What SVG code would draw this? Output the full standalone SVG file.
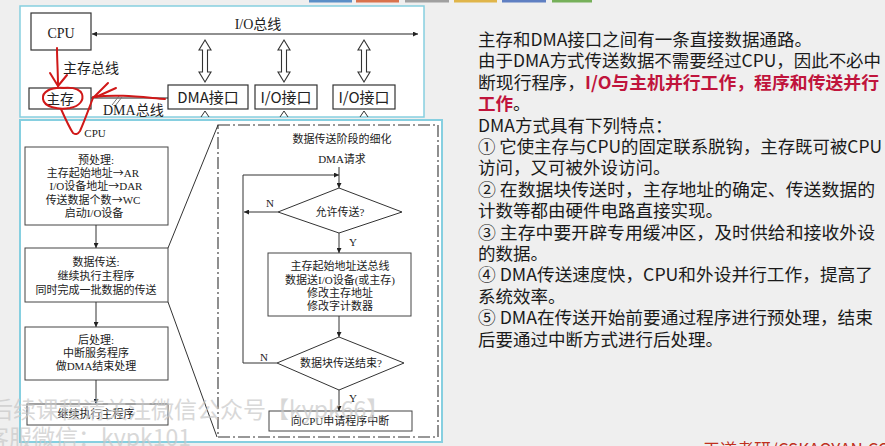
<svg xmlns="http://www.w3.org/2000/svg" width="885" height="446" viewBox="0 0 885 446">
  <defs>
    <marker id="ah" viewBox="0 0 10 10" refX="10" refY="5" markerWidth="6" markerHeight="5" markerUnits="userSpaceOnUse" orient="auto">
      <path d="M0,0 L10,5 L0,10 z" fill="#222"/>
    </marker>
    <marker id="busHead" viewBox="0 0 10 10" refX="10" refY="5" markerWidth="11" markerHeight="5" markerUnits="userSpaceOnUse" orient="auto-start-reverse">
      <path d="M0,0 L10,5 L0,10 z" fill="#222"/>
    </marker>
    <!-- hollow double-headed bus arrow, centred on x=0 -->
    <polygon id="dbl" points="0,0 6,10 2.5,10 2.5,32 6,32 0,42 -6,32 -2.5,32 -2.5,10 -6,10" fill="#fff" stroke="#333" stroke-width="1.1"/>
  </defs>
  <style>
    .panel { fill: #fff; stroke: #86cfe0; }
    .box { fill: #fff; stroke: #333; stroke-width: 1.2; }
    .fbox { fill: #fff; stroke: #444; stroke-width: 1; }
    .ser { font-family: "Liberation Serif", "Noto Sans CJK SC", serif; fill: #222; }
    .sans { font-family: "Noto Sans CJK SC", "Liberation Sans", sans-serif; fill: #222; }
    .arr { font-family: "Noto Sans CJK SC", sans-serif; }
    .lbl { font-size: 14px; }
    .ft { font-size: 11px; text-anchor: middle; }
    .ln { stroke: #333; stroke-width: 1; fill: none; }
    .body { font-family: "Noto Sans CJK SC", "Liberation Sans", sans-serif; font-size: 17.5px; fill: #1a1a1a; }
    .hl { fill: #c0143c; font-weight: bold; }
    .red { fill: none; stroke: #d01818; stroke-width: 2; stroke-linecap: round; stroke-linejoin: round; }
    .wm { font-family: "Noto Sans CJK SC", sans-serif; font-size: 23px; fill: #c8c8c8; opacity: 0.7; }
  </style>

  <!-- slide background and toolbar tabs -->
  <rect x="0" y="0" width="885" height="446" fill="#efefef"/>
  <g id="tabs">
    <rect x="309" y="0" width="43" height="2.5" fill="#5b8fc7"/>
    <rect x="356" y="0" width="43" height="2.5" fill="#d9734d"/>
    <rect x="405" y="0" width="44" height="2.5" fill="#a0a0a0"/>
    <rect x="454" y="0" width="43" height="2.5" fill="#e0b54a"/>
    <rect x="502" y="0" width="44" height="2.5" fill="#5f7fc2"/>
    <rect x="552" y="0" width="40" height="2.5" fill="#76b05a"/>
  </g>

  <!-- upper figure: bus structure -->
  <rect class="panel" x="20" y="6" width="404" height="111" stroke-width="1.5"/>

  <g id="cpu">
    <rect class="box" x="31" y="13" width="60" height="37"/>
    <text class="ser lbl" x="61" y="38" text-anchor="middle">CPU</text>
  </g>
  <g id="mem">
    <rect class="box" x="29" y="88" width="62" height="21"/>
    <text class="ser lbl" x="60" y="104" text-anchor="middle">主存</text>
  </g>
  <g id="dma-if">
    <rect class="box" x="168" y="85" width="80" height="24"/>
    <text class="sans" font-size="15" x="208" y="103" text-anchor="middle">DMA接口</text>
  </g>
  <g id="io-if1">
    <rect class="box" x="255" y="85" width="62" height="24"/>
    <text class="sans" font-size="15" x="286" y="103" text-anchor="middle">I/O接口</text>
  </g>
  <g id="io-if2">
    <rect class="box" x="333" y="85" width="62" height="24"/>
    <text class="sans" font-size="15" x="364" y="103" text-anchor="middle">I/O接口</text>
  </g>

  <g id="bus-connectors">
    <line x1="92" y1="34" x2="418" y2="34" stroke="#222" stroke-width="1.2" marker-start="url(#busHead)" marker-end="url(#busHead)"/>
    <use href="#dbl" x="205" y="40"/>
    <use href="#dbl" x="284" y="40"/>
    <use href="#dbl" x="364" y="40"/>
    <line x1="91" y1="98" x2="168" y2="98" stroke="#222" stroke-width="1.2"/>
    <path d="M112,105 L119,96 M115,106 L122,97" stroke="#777" stroke-width="1"/>
    <path d="M201,117 L205,111 L209,117 M280,117 L284,111 L288,117 M360,117 L364,111 L368,117" class="ln"/>
  </g>
  <text class="ser lbl" x="258" y="29" text-anchor="middle">I/O总线</text>
  <text class="ser lbl" x="63" y="73">主存总线</text>
  <text class="ser lbl" x="103" y="115">DMA总线</text>

  <!-- lower figure: DMA transfer flow -->
  <rect class="panel" x="20" y="120" width="422" height="322" stroke-width="2"/>
  <text class="ser" font-size="11" x="95" y="137" text-anchor="middle">CPU</text>

  <g id="pre">
    <rect class="fbox" x="25" y="147" width="143" height="78"/>
    <text class="ser ft" x="96" y="164">预处理:</text>
    <text class="ser ft" x="93" y="177">主存起始地址<tspan class="arr">→</tspan>AR</text>
    <text class="ser ft" x="96" y="190">I/O设备地址<tspan class="arr">→</tspan>DAR</text>
    <text class="ser ft" x="93" y="204">传送数据个数<tspan class="arr">→</tspan>WC</text>
    <text class="ser ft" x="94" y="217">启动I/O设备</text>
  </g>
  <g id="transfer">
    <rect class="fbox" x="25" y="248" width="143" height="54"/>
    <text class="ser ft" x="96" y="266">数据传送:</text>
    <text class="ser ft" x="96" y="280">继续执行主程序</text>
    <text class="ser ft" x="96" y="294">同时完成一批数据的传送</text>
  </g>
  <g id="post">
    <rect class="fbox" x="25" y="327" width="143" height="53"/>
    <text class="ser ft" x="96" y="344">后处理:</text>
    <text class="ser ft" x="96" y="357">中断服务程序</text>
    <text class="ser ft" x="96" y="370">做DMA结束处理</text>
  </g>
  <g id="resume">
    <rect class="fbox" x="27" y="404" width="141" height="21" stroke-width="1.6"/>
    <text class="ser ft" x="96" y="418" font-size="10.5">继续执行主程序</text>
  </g>

  <g id="detail">
    <rect x="218" y="125" width="220" height="312" fill="none" stroke="#333" stroke-width="1.1" stroke-dasharray="12,3,2,3"/>
    <text class="ser ft" x="342" y="143">数据传送阶段的细化</text>
    <text class="ser ft" x="342" y="163">DMA请求</text>
  </g>
  <g id="allow">
    <polygon points="339,188 402,212 339,233 278,212" fill="#fff" stroke="#333" stroke-width="1"/>
    <text class="ser ft" x="340" y="216">允许传送?</text>
  </g>
  <g id="move">
    <rect class="fbox" x="268" y="253" width="143" height="63"/>
    <text class="ser ft" x="340" y="270">主存起始地址送总线</text>
    <text class="ser ft" x="340" y="284">数据送I/O设备(或主存)</text>
    <text class="ser ft" x="340" y="297">修改主存地址</text>
    <text class="ser ft" x="340" y="310">修改字计数器</text>
  </g>
  <g id="done">
    <polygon points="339,337 404,363 339,390 277,363" fill="#fff" stroke="#333" stroke-width="1"/>
    <text class="ser ft" x="341" y="367">数据块传送结束?</text>
  </g>
  <g id="irq">
    <rect class="fbox" x="269" y="411" width="143" height="20"/>
    <text class="ser ft" x="340" y="425">向CPU申请程序中断</text>
  </g>

  <g id="flow-connectors">
    <line class="ln" x1="96" y1="225" x2="96" y2="248" marker-end="url(#ah)"/>
    <line class="ln" x1="96" y1="302" x2="96" y2="327" marker-end="url(#ah)"/>
    <line class="ln" x1="96" y1="380" x2="96" y2="404" marker-end="url(#ah)"/>
    <line class="ln" x1="168" y1="248" x2="218" y2="125"/>
    <line class="ln" x1="168" y1="302" x2="217" y2="437"/>
    <line class="ln" x1="339" y1="167" x2="339" y2="188" marker-end="url(#ah)"/>
    <line class="ln" x1="339" y1="233" x2="339" y2="253" marker-end="url(#ah)"/>
    <line class="ln" x1="339" y1="316" x2="339" y2="337" marker-end="url(#ah)"/>
    <line class="ln" x1="339" y1="390" x2="339" y2="411" marker-end="url(#ah)"/>
    <line class="ln" x1="278" y1="212" x2="244" y2="212" marker-end="url(#ah)"/>
    <polyline class="ln" points="277,363 243,363 243,175 339,175" marker-end="url(#ah)"/>
    <text class="ser" font-size="11" x="266" y="207">N</text>
    <text class="ser" font-size="11" x="260" y="361">N</text>
    <text class="ser" font-size="11" x="349" y="246">Y</text>
    <text class="ser" font-size="11" x="349" y="402">Y</text>
  </g>

  <!-- hand-drawn pen marks -->
  <g id="pen">
    <path class="red" d="M57,48 C57,60 58,72 58,86"/>
    <path class="red" d="M50,73 L58,86 L67,75"/>
    <path class="red" d="M64,88 C50,87 42,92 43,99 C44,107 58,110 70,108 C80,106 84,100 82,94 C80,89 72,87 62,88"/>
    <path class="red" d="M61,109 C65,118 69,127 73,133 C76,135 78,134 80,131 C85,120 89,108 93,98"/>
    <path class="red" d="M165,99 C140,97 118,94 93,97"/>
    <path class="red" d="M94,97 L108,83 M96,97 L116,88"/>
  </g>

  <!-- explanatory text -->
  <g id="notes" class="body">
    <text x="478" y="46" textLength="334" lengthAdjust="spacingAndGlyphs">主存和DMA接口之间有一条直接数据通路。</text>
    <text x="478" y="67.4" textLength="403" lengthAdjust="spacingAndGlyphs">由于DMA方式传送数据不需要经过CPU，因此不必中</text>
    <text x="478" y="88.8" textLength="401" lengthAdjust="spacingAndGlyphs">断现行程序，<tspan class="hl">I/O与主机并行工作，程序和传送并行</tspan></text>
    <text x="478" y="110.2"><tspan class="hl">工作</tspan>。</text>
    <text x="478" y="131.6">DMA方式具有下列特点：</text>
    <text x="478" y="153" textLength="404" lengthAdjust="spacingAndGlyphs">① 它使主存与CPU的固定联系脱钩，主存既可被CPU</text>
    <text x="478" y="174.4">访问，又可被外设访问。</text>
    <text x="478" y="195.8" textLength="397" lengthAdjust="spacingAndGlyphs">② 在数据块传送时，主存地址的确定、传送数据的</text>
    <text x="478" y="217.2">计数等都由硬件电路直接实现。</text>
    <text x="478" y="238.6" textLength="397" lengthAdjust="spacingAndGlyphs">③ 主存中要开辟专用缓冲区，及时供给和接收外设</text>
    <text x="478" y="260">的数据。</text>
    <text x="478" y="281.4" textLength="395" lengthAdjust="spacingAndGlyphs">④ DMA传送速度快，CPU和外设并行工作，提高了</text>
    <text x="478" y="302.8">系统效率。</text>
    <text x="478" y="324.2" textLength="395" lengthAdjust="spacingAndGlyphs">⑤ DMA在传送开始前要通过程序进行预处理，结束</text>
    <text x="478" y="345.6">后要通过中断方式进行后处理。</text>
  </g>

  <!-- overlays along the bottom edge -->
  <text class="wm" x="-10" y="418">后续课程请关注微信公众号【kypk66】</text>
  <text class="wm" x="-14" y="446">客服微信：kypk101</text>
  <text x="703" y="456" font-family="Noto Sans CJK SC, sans-serif" font-size="17" fill="#c0301e">王道考研/CSKAOYAN.COM</text>
</svg>
